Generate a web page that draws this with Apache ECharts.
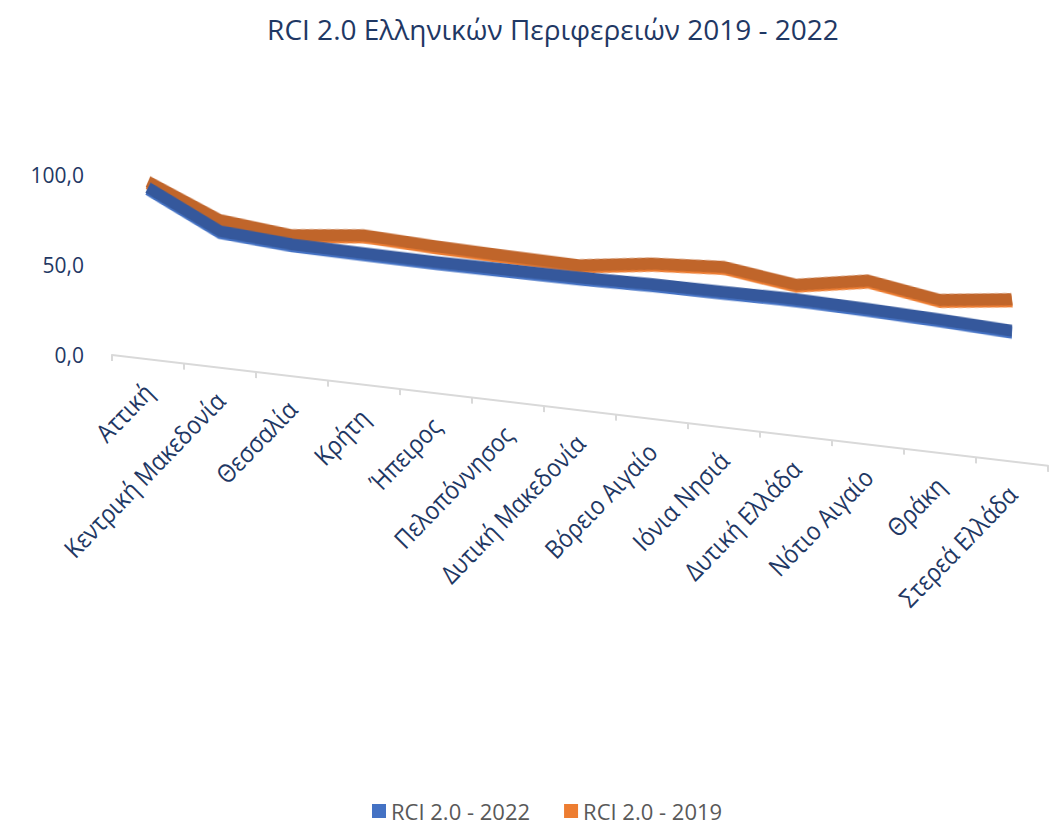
<!DOCTYPE html>
<html lang="el">
<head>
<meta charset="utf-8">
<title>RCI 2.0 Ελληνικών Περιφερειών 2019 - 2022</title>
<script src="https://cdn.jsdelivr.net/npm/echarts@6/dist/echarts.min.js"></script>
<style>
  html, body { margin: 0; padding: 0; background: #ffffff; }
  .stage { position: relative; width: 1052px; height: 827px; overflow: hidden; }
  .layer { position: absolute; left: 0; top: 0; width: 1052px; height: 827px; }
  /* the original is an Excel 3D line chart whose floor falls to the right, a light skew imitates it */
  #plot { transform: skewY(6.75deg); transform-origin: 112px 355px; }
  #frame { pointer-events: none; }
</style>
</head>
<body>
<div class="stage">
  <div id="plot" class="layer"></div>
  <div id="frame" class="layer"></div>
</div>
<script>
const regions = [
  'Αττική', 'Κεντρική Μακεδονία', 'Θεσσαλία', 'Κρήτη', 'Ήπειρος', 'Πελοπόννησος',
  'Δυτική Μακεδονία', 'Βόρειο Αιγαίο', 'Ιόνια Νησιά', 'Δυτική Ελλάδα', 'Νότιο Αιγαίο',
  'Θράκη', 'Στερεά Ελλάδα'
]
const rci2022 = [95.3, 75.9, 73.3, 73.0, 72.9, 73.4, 73.8, 74.8, 75.3, 76.0, 75.3, 74.1, 72.6]
const rci2019 = [98.7, 82.1, 78.3, 83.0, 81.7, 81.0, 80.6, 86.2, 89.2, 84.0, 91.1, 85.0, 90.1]
const seriesNames = ['RCI 2.0 - 2022', 'RCI 2.0 - 2019']
const valueMin = 0
const valueMax = 100
const valueStep = 50

const font = '"Open Sans", "Noto Sans", sans-serif'
const navy = '#1f3864'
// both layers share this grid so the value labels sit on the same scale as the lines
const grid = { left: 112, right: 4, top: 175, bottom: 472 }

function ribbon(name, data, face, rim, z) {
  return {
    name: name,
    type: 'line',
    data: data,
    z: z,
    symbol: 'none',
    smooth: false,
    lineStyle: {
      width: 12,
      color: face,
      join: 'miter',
      cap: 'butt',
      shadowColor: rim,
      shadowOffsetY: 2,
      shadowBlur: 0
    }
  }
}

const plot = echarts.init(document.getElementById('plot'), null, { renderer: 'svg' })
plot.setOption({
  animation: false,
  textStyle: { fontFamily: font },
  grid: grid,
  xAxis: {
    type: 'category',
    data: regions,
    boundaryGap: true,
    axisLine: { lineStyle: { color: '#d9d9d9', width: 2 } },
    axisTick: { show: true, length: 6, lineStyle: { color: '#d9d9d9', width: 2 } },
    axisLabel: {
      interval: 0,
      rotate: 49,
      margin: 28,
      fontSize: 24,
      color: navy,
      fontFamily: font
    }
  },
  yAxis: {
    type: 'value',
    min: valueMin,
    max: valueMax,
    interval: valueStep,
    axisLine: { show: false },
    axisTick: { show: false },
    axisLabel: { show: false },
    splitLine: { show: false }
  },
  series: [
    ribbon(seriesNames[1], rci2019, '#c0652b', '#ed7d31', 2),
    ribbon(seriesNames[0], rci2022, '#36599c', '#4472c4', 3)
  ]
})

const frame = echarts.init(document.getElementById('frame'), null, { renderer: 'svg' })
frame.setOption({
  animation: false,
  color: ['#4472c4', '#ed7d31'],
  textStyle: { fontFamily: font },
  title: {
    text: 'RCI 2.0 Ελληνικών Περιφερειών 2019 - 2022',
    left: 548,
    textAlign: 'center',
    top: 10,
    textStyle: { fontSize: 28, fontWeight: 'normal', color: navy, fontFamily: font }
  },
  legend: {
    left: 367,
    top: 795,
    icon: 'rect',
    itemWidth: 14,
    itemHeight: 14,
    itemGap: 34,
    data: seriesNames,
    textStyle: { fontSize: 22, color: '#595959', fontFamily: font }
  },
  grid: grid,
  xAxis: { type: 'category', data: regions, show: false },
  yAxis: {
    type: 'value',
    min: valueMin,
    max: valueMax,
    interval: valueStep,
    axisLine: { show: false },
    axisTick: { show: false },
    splitLine: { show: false },
    axisLabel: {
      margin: 28,
      fontSize: 21,
      color: navy,
      fontFamily: font,
      formatter: (v) => v.toFixed(1).replace('.', ',')
    }
  },
  // empty series only feed the legend, the lines are drawn in the skewed layer
  series: seriesNames.map((name) => ({ name: name, type: 'line', data: [] }))
})
</script>
</body>
</html>
